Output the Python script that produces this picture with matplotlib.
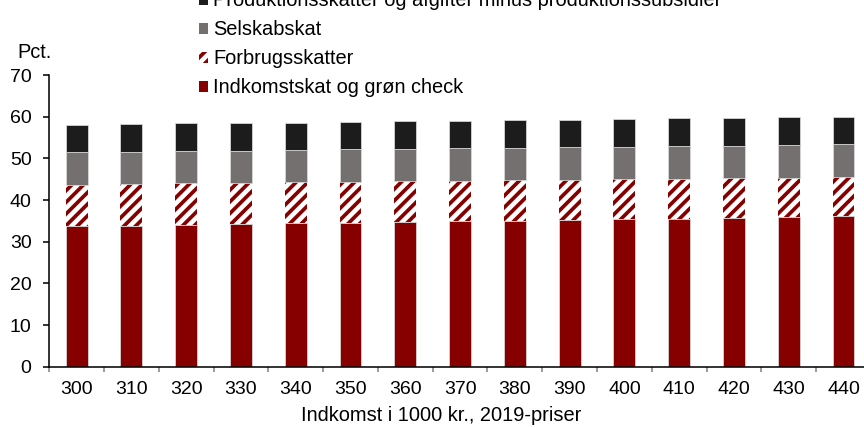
import numpy as np
import matplotlib
matplotlib.use("Agg")
import matplotlib.pyplot as plt
from matplotlib.patches import Patch

plt.rcParams['font.family'] = ['Liberation Sans', 'DejaVu Sans']
plt.rcParams['hatch.linewidth'] = 1.9
plt.rcParams['axes.linewidth'] = 0.8

# income groups, 1000 kr. (2019 prices)
incomes = ['300', '310', '320', '330', '340', '350', '360', '370',
           '380', '390', '400', '410', '420', '430', '440']

# tax components, pct. of income
indkomstskat = [33.8, 33.9, 34.1, 34.3, 34.4, 34.6, 34.8, 34.9,
                35.1, 35.2, 35.4, 35.5, 35.7, 35.9, 36.1]
forbrugsskatter = [9.8, 9.9, 9.9, 9.8, 9.9, 9.8, 9.7, 9.7,
                   9.7, 9.7, 9.6, 9.6, 9.6, 9.5, 9.5]
selskabsskat = [7.85, 7.8, 7.8, 7.8, 7.7, 7.8, 7.8, 7.8,
                7.8, 7.8, 7.8, 7.9, 7.8, 7.9, 7.8]
produktionsskatter = [6.55, 6.6, 6.6, 6.6, 6.6, 6.6, 6.6, 6.7,
                      6.6, 6.6, 6.7, 6.6, 6.6, 6.6, 6.6]

red = '#870000'
grey = '#747070'
black = '#1c1c1c'

# at dpi 140 '////' gives ~11.7 px between stripes, like the original
dpi = 140
fig = plt.figure(figsize=(864 / dpi, 427 / dpi), dpi=dpi)
ax = fig.add_axes([0.057, 0.141, 0.951, 0.683])

x = np.arange(len(incomes))
w = 0.4
b1 = np.array(indkomstskat)
b2 = b1 + np.array(forbrugsskatter)
b3 = b2 + np.array(selskabsskat)

ax.bar(x, indkomstskat, w, color=red, edgecolor='#d9d9d9', linewidth=0.4)
ax.bar(x, forbrugsskatter, w, bottom=b1, facecolor='white', edgecolor=red,
       hatch='////', linewidth=0)
ax.bar(x, selskabsskat, w, bottom=b2, color=grey, edgecolor='#d9d9d9', linewidth=0.4)
ax.bar(x, produktionsskatter, w, bottom=b3, color=black, edgecolor='#d9d9d9', linewidth=0.4)

ax.set_xlim(-0.5, len(incomes) - 0.5)
ax.set_ylim(0, 70)
ax.set_yticks(range(0, 71, 10))
ax.set_xticks(x)
ax.set_xticklabels(incomes)
ax.set_xticks(np.arange(-0.5, len(incomes), 1), minor=True)
ax.tick_params(axis='x', which='major', length=0, labelsize=10, pad=7.5)
ax.tick_params(axis='x', which='minor', length=2.6, width=0.8, direction='out', color='#808080')
ax.tick_params(axis='y', length=3.1, width=0.8, direction='out', labelsize=10, pad=6)

for s in ['top', 'right']:
    ax.spines[s].set_visible(False)

ax.set_xlabel('Indkomst i 1000 kr., 2019-priser', fontsize=10.3)
ax.xaxis.set_label_coords(0.477, -0.135)
fig.text(0.0197, 0.877, 'Pct.', fontsize=10.3, va='center')

handles = [
    Patch(facecolor=black, label='Produktionsskatter og afgifter minus produktionssubsidier'),
    Patch(facecolor=grey, label='Selskabskat'),
    Patch(facecolor='white', edgecolor=red, hatch='////', linewidth=0, label='Forbrugsskatter'),
    Patch(facecolor=red, label='Indkomstskat og grøn check'),
]
fig.legend(handles=handles, loc='lower left', bbox_to_anchor=(0.2307, 0.772),
           frameon=False, fontsize=10.3, handlelength=0.45, handleheight=0.45,
           handletextpad=0.25, labelspacing=0.5, borderaxespad=0, borderpad=0)

fig.savefig('out.png', dpi=dpi)
